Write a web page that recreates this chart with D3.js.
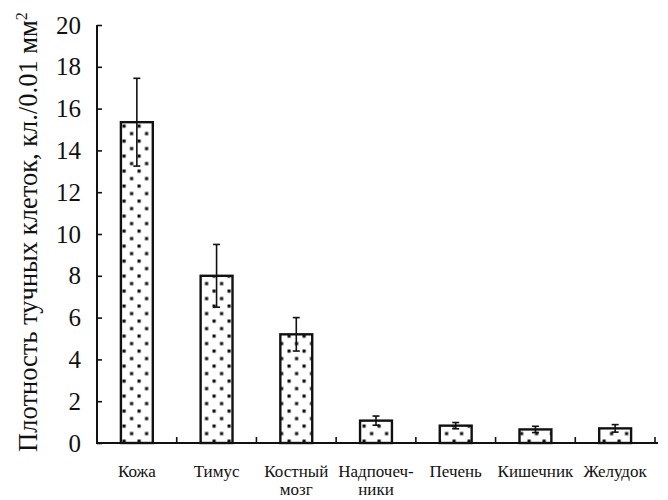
<!DOCTYPE html>
<html><head><meta charset="utf-8">
<script src="https://cdn.jsdelivr.net/npm/d3@7"></script>
<style>body{margin:0;background:#fff}svg{display:block}</style>
</head><body>
<svg id="c" width="668" height="500" font-family="Liberation Serif"></svg>
<script>
const categories = [["Кожа"],["Тимус"],["Костный","мозг"],["Надпочеч-","ники"],["Печень"],["Кишечник"],["Желудок"]];
const values = [15.35, 8.0, 5.2, 1.07, 0.83, 0.65, 0.7];
const errors = [2.1, 1.5, 0.8, 0.22, 0.15, 0.15, 0.18];
const yTicks = [0,2,4,6,8,10,12,14,16,18,20];

const FONT = "Liberation Serif";
const svg = d3.select("#c");
const x0 = 97, x1 = 655, yTop = 25, yBot = 443;
const ids = categories.map((c,i)=>i);
const x = d3.scaleBand().domain(ids).range([x0,x1]).paddingInner(0.6).paddingOuter(0.3);
const xb = d3.scaleBand().domain(ids).range([x0,x1]).padding(0);
const y = d3.scaleLinear().domain([0,20]).range([yBot,yTop]);

const defs = svg.append("defs");
const pat = defs.append("pattern").attr("id","dots").attr("patternUnits","userSpaceOnUse")
  .attr("width",15).attr("height",15).attr("x",122.5).attr("y",124.5);
pat.append("rect").attr("width",15).attr("height",15).attr("fill","#fff");
pat.append("rect").attr("x",0).attr("y",0).attr("width",3.2).attr("height",3.2).attr("fill","#111");
pat.append("rect").attr("x",7.5).attr("y",7.5).attr("width",3.2).attr("height",3.2).attr("fill","#111");

// bars
svg.selectAll("rect.bar").data(values).enter().append("rect")
  .attr("class","bar")
  .attr("x",(d,i)=>x(i)).attr("width",x.bandwidth())
  .attr("y",d=>y(d)).attr("height",d=>y(0)-y(d))
  .attr("fill","url(#dots)").attr("stroke","#111").attr("stroke-width",2.4);

// error bars
const eg = svg.append("g").attr("stroke","#111").attr("stroke-width",1.6);
values.forEach((v,i)=>{
  const cx = x(i)+x.bandwidth()/2;
  eg.append("line").attr("x1",cx).attr("x2",cx).attr("y1",y(v+errors[i])).attr("y2",y(v-errors[i]));
  eg.append("line").attr("x1",cx-3.5).attr("x2",cx+3.5).attr("y1",y(v+errors[i])).attr("y2",y(v+errors[i]));
  eg.append("line").attr("x1",cx-3.5).attr("x2",cx+3.5).attr("y1",y(v-errors[i])).attr("y2",y(v-errors[i]));
});

// y axis
const ya = svg.append("g").attr("transform",`translate(${x0},0)`)
  .call(d3.axisRight(y).tickValues(yTicks).tickSize(5).tickFormat(""));
ya.select(".domain").remove();
ya.selectAll("line").attr("stroke","#111").attr("stroke-width",1.6);
svg.append("line").attr("x1",x0).attr("x2",x0).attr("y1",yTop).attr("y2",yBot+1)
  .attr("stroke","#111").attr("stroke-width",2);
svg.append("g").selectAll("text").data(yTicks).enter().append("text")
  .attr("x",81).attr("y",d=>y(d)+8.5).attr("text-anchor","end")
  .attr("font-family",FONT).style("font-family",FONT)
  .attr("font-size",25).attr("fill","#111").text(d=>d);

// x axis
svg.append("line").attr("x1",x0-1).attr("x2",x1+3).attr("y1",yBot).attr("y2",yBot)
  .attr("stroke","#111").attr("stroke-width",2);
svg.append("g").selectAll("line").data(ids.map(i=>xb(i)+xb.bandwidth())).enter().append("line")
  .attr("x1",d=>d).attr("x2",d=>d).attr("y1",yBot).attr("y2",yBot-6)
  .attr("stroke","#111").attr("stroke-width",1.6);

// x labels
const xl = svg.append("g");
categories.forEach((lines,i)=>{
  const cx = x(i)+x.bandwidth()/2;
  lines.forEach((t,j)=>{
    xl.append("text").attr("x",cx).attr("y",477+j*18).attr("text-anchor","middle")
      .attr("font-family",FONT).style("font-family",FONT)
      .attr("font-size",17).attr("fill","#111").text(t);
  });
});

// y title
const yt = svg.append("text").attr("transform","translate(37,232) rotate(-90)")
  .attr("text-anchor","middle").attr("font-family",FONT).style("font-family",FONT)
  .attr("font-size",26.5).attr("fill","#111");
yt.append("tspan").text("Плотность тучных клеток, кл./0.01 мм");
yt.append("tspan").attr("dy",-10).attr("font-size",16).text("2");
</script>
</body></html>
